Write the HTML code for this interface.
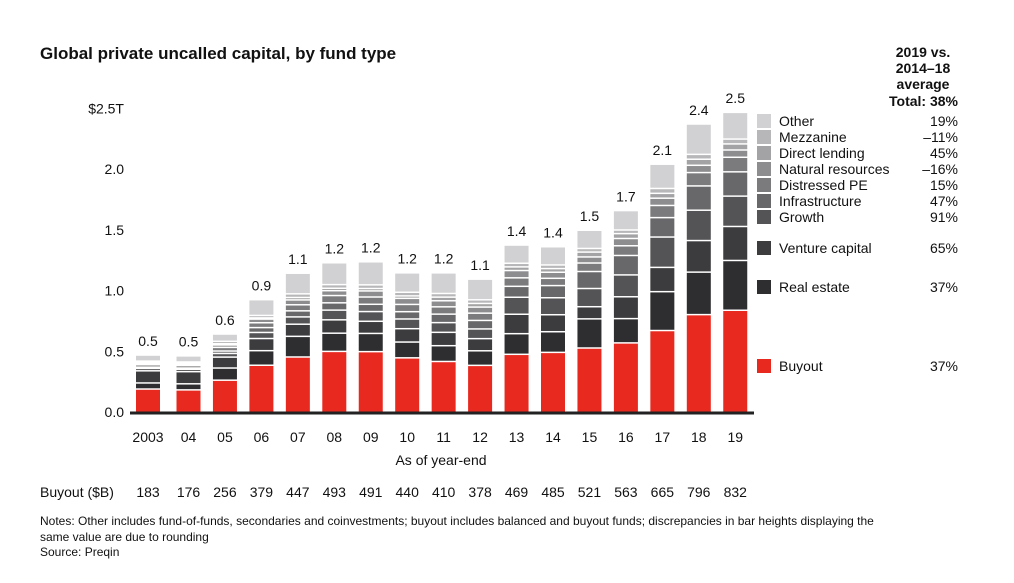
<!DOCTYPE html>
<html><head><meta charset="utf-8"><style>
body{margin:0;background:#fff;font-family:"Liberation Sans",Arial,sans-serif;}
svg text{font-family:"Liberation Sans",Arial,sans-serif;fill:#111;}
</style></head><body>
<svg id="chart" width="1014" height="578" xmlns="http://www.w3.org/2000/svg">
<text x="40" y="59" font-size="17" font-weight="bold">Global private uncalled capital, by fund type</text>
<g id="yaxis"></g>
<g id="bars"></g>
<g id="xaxis"></g>
<line x1="130" y1="413" x2="754" y2="413" stroke="#222" stroke-width="3"/>
<text x="441" y="465" font-size="14" text-anchor="middle">As of year-end</text>
<text x="40" y="497" font-size="14">Buyout ($B)</text>
<g id="legend">
<text x="923" y="57" font-size="14" font-weight="bold" text-anchor="middle">2019 vs.</text>
<text x="923" y="73" font-size="14" font-weight="bold" text-anchor="middle">2014–18</text>
<text x="923" y="89" font-size="14" font-weight="bold" text-anchor="middle">average</text>
<text x="958" y="106" font-size="14" font-weight="bold" text-anchor="end">Total: 38%</text>
</g>
<text x="40" y="525" font-size="12">Notes: Other includes fund-of-funds, secondaries and coinvestments; buyout includes balanced and buyout funds; discrepancies in bar heights displaying the</text>
<text x="40" y="541" font-size="12">same value are due to rounding</text>
<text x="40" y="556" font-size="12">Source: Preqin</text>
</svg>
<script>
const years=["2003","04","05","06","07","08","09","10","11","12","13","14","15","16","17","18","19"];
const totals=["0.5","0.5","0.6","0.9","1.1","1.2","1.2","1.2","1.2","1.1","1.4","1.4","1.5","1.7","2.1","2.4","2.5"];
const buyoutB=[183,176,256,379,447,493,491,440,410,378,469,485,521,563,665,796,832];
const realEstate=[.05,.05,.1,.12,.17,.15,.15,.13,.13,.12,.17,.17,.24,.2,.32,.35,.41];
const venture=[.1,.1,.09,.1,.1,.11,.1,.11,.11,.1,.16,.14,.1,.18,.2,.26,.28];
const growth=[.02,.02,.03,.05,.06,.08,.08,.08,.08,.08,.14,.14,.15,.18,.25,.25,.25];
const infra=[.01,.01,.02,.04,.05,.06,.06,.06,.07,.07,.09,.1,.14,.16,.16,.2,.2];
const distressed=[.02,.02,.03,.04,.05,.06,.06,.06,.06,.06,.07,.06,.07,.08,.1,.11,.12];
const natres=[.01,.01,.02,.03,.04,.04,.05,.05,.05,.05,.06,.05,.05,.06,.06,.06,.06];
const directLending=[.01,.01,.01,.01,.02,.02,.02,.02,.03,.03,.03,.03,.04,.04,.04,.05,.05];
const mezz=[.01,.01,.02,.02,.03,.03,.03,.03,.03,.03,.03,.03,.03,.03,.04,.04,.04];
const other=[.05,.05,.06,.13,.17,.18,.19,.16,.17,.17,.15,.15,.15,.16,.2,.25,.22];
const yTicks=[0,0.5,1.0,1.5,2.0,2.5];
const yTickLabels=["0.0","0.5","1.0","1.5","2.0","$2.5T"];
const legendNames=["Other","Mezzanine","Direct lending","Natural resources","Distressed PE","Infrastructure","Growth","Venture capital","Real estate","Buyout"];
const legendPcts=["19%","–11%","45%","–16%","15%","47%","91%","65%","37%","37%"];

const NS="http://www.w3.org/2000/svg";
const y=v=>412-v*121.4;
const x=i=>i===0?148:188.5+(i-1)*36.45;
const BW=24;
const colors=["#e8291f","#2e2e30","#3c3c3e","#545456","#68686a","#7b7b7d","#8d8d8f","#a3a3a5","#b7b7b9","#d1d1d3"];
function mk(tag,attrs,parent,txt){const e=document.createElementNS(NS,tag);for(const k in attrs)e.setAttribute(k,attrs[k]);if(txt!==undefined)e.textContent=txt;parent.appendChild(e);return e;}
const yg=document.getElementById('yaxis');
yTicks.forEach((t,i)=>{
 const e=mk('text',{x:124,y:y(t)+5,'font-size':14,'text-anchor':'end'},yg,yTickLabels[i]);
 
 
});
const bg=document.getElementById('bars');
const xg=document.getElementById('xaxis');
years.forEach((yr,i)=>{
 const segs=[buyoutB[i]/1000,realEstate[i],venture[i],growth[i],infra[i],distressed[i],natres[i],directLending[i],mezz[i],other[i]];
 let cum=0;
 segs.forEach((v,j)=>{
  const top=y(cum+v),bot=y(cum);
  const r=mk('rect',{x:x(i)-BW/2,y:top,width:BW,height:Math.max(0,bot-top-(j===0?0:1.5)),fill:colors[j]},bg);
  
  
  cum+=v;
 });
 const tl=mk('text',{x:x(i),y:y(cum)-10,'font-size':14,'text-anchor':'middle'},bg,totals[i]);
 
 
 const xl=mk('text',{x:x(i),y:442,'font-size':14,'text-anchor':'middle'},xg,yr);
 
 
 const bl=mk('text',{x:x(i),y:497,'font-size':14,'text-anchor':'middle'},xg,String(buyoutB[i]));
 
 
});
const lg=document.getElementById('legend');
const ly=[121,137,153,169,185,201,217,248,287,366];
legendNames.forEach((n,k)=>{
 const j=9-k;
 const r=mk('rect',{x:757,y:ly[k]-7,width:14,height:14,fill:colors[j]},lg);
 
 
 const t=mk('text',{x:779,y:ly[k]+5,'font-size':14},lg,n);
 
 
 const p=mk('text',{x:958,y:ly[k]+5,'font-size':14,'text-anchor':'end'},lg,legendPcts[k]);
 
 
});
</script>
</body></html>
